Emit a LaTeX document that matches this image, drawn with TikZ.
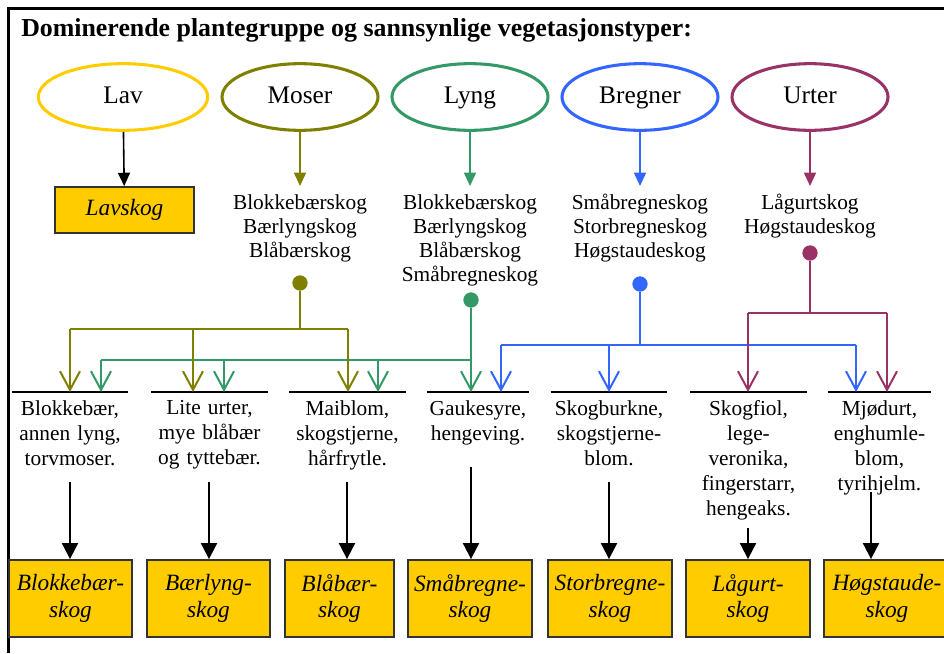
\documentclass[tikz,border=0pt]{standalone}
\usepackage{fontspec}
\setmainfont{Liberation Serif}
\usetikzlibrary{arrows.meta,shapes.geometric}

\definecolor{lavc}{RGB}{255,204,0}
\definecolor{moserc}{RGB}{128,128,0}
\definecolor{lyngc}{RGB}{51,153,102}
\definecolor{bregnerc}{RGB}{51,102,255}
\definecolor{urterc}{RGB}{153,51,102}
\definecolor{boxfill}{RGB}{255,204,0}

\tikzset{
  heading/.style={anchor=west, inner sep=0pt, font=\fontsize{19.4}{22}\selectfont\bfseries},
  group/.style={ellipse, draw, line width=2.3pt, minimum width=117pt, minimum height=50pt, text height=13pt, text depth=4pt, font=\fontsize{19}{22}\selectfont},
  typelist/.style={anchor=north, align=center, inner sep=6pt, font=\fontsize{16}{18}\selectfont},
  dot/.style={circle, fill, inner sep=0pt, minimum size=11.5pt},
  desc/.style={anchor=north, align=center, inner xsep=0pt, inner ysep=6pt, font=\fontsize{16}{18.75}\selectfont},
  vegbox/.style={draw=black!80, fill=boxfill, line width=1.4pt, minimum height=57.75pt, align=center, inner sep=0pt, font=\fontsize{17.5}{20}\selectfont\itshape},
  rail/.style={line width=1.5pt},
  bar/.style={line width=1.5pt},
  branch/.style={line width=1.5pt, -{Straight Barb[length=14pt, width=15pt]}},
  down/.style={line width=1.2pt, -{Triangle[length=10pt, width=9pt]}},
  final/.style={line width=1.5pt, -{Triangle[length=12pt, width=12pt]}}
}

\begin{document}
\begin{tikzpicture}[x=0.75pt, y=-0.75pt]
  \useasboundingbox (0,0) rectangle (944,653);
  \draw[line width=2.25pt] (8.5,653) -- (8.5,8.5) -- (944,8.5);

  \node[heading] (title) at (21,30) {Dominerende plantegruppe og sannsynlige vegetasjonstyper:};

  % plant groups
  \node[group, draw=lavc, minimum width=127pt] (lav) at (123,97) {Lav};
  \node[group, draw=moserc] (moser) at (300,97) {Moser};
  \node[group, draw=lyngc] (lyng) at (470,97) {Lyng};
  \node[group, draw=bregnerc] (bregner) at (640,97) {Bregner};
  \node[group, draw=urterc] (urter) at (810,97) {Urter};

  \node[vegbox, minimum width=104pt, minimum height=34.5pt] (lavskog) at (124.5,210) {Lavskog};
  \node[typelist] (mlist) at (300,186) {Blokkebærskog\\Bærlyngskog\\Blåbærskog};
  \node[typelist] (llist) at (470,186) {Blokkebærskog\\Bærlyngskog\\Blåbærskog\\Småbregneskog};
  \node[typelist] (blist) at (640,186) {Småbregneskog\\Storbregneskog\\Høgstaudeskog};
  \node[typelist] (ulist) at (810,186) {Lågurtskog\\Høgstaudeskog};

  \draw[down] (lav) -- (lavskog);
  \draw[down, moserc] (moser) -- (mlist);
  \draw[down, lyngc] (lyng) -- (llist);
  \draw[down, bregnerc] (bregner) -- (blist);
  \draw[down, urterc] (urter) -- (ulist);

  \node[dot, moserc] (mdot) at (300,283) {};
  \node[dot, lyngc] (ldot) at (471,300) {};
  \node[dot, bregnerc] (bdot) at (640,284) {};
  \node[dot, urterc] (udot) at (810,253) {};

  % likely vegetation, with short notes
  \node[desc, text width=87pt] (d1) at (70,392) {Blokkebær,\\annen lyng,\\torvmoser.};
  \node[desc, text width=87pt] (d2) at (209.5,392) {Lite urter,\\mye blåbær\\og tyttebær.};
  \node[desc, text width=87pt] (d3) at (347.5,392) {Maiblom,\\skogstjerne,\\hårfrytle.};
  \node[desc, text width=76.5pt] (d4) at (478,392) {Gaukesyre,\\hengeving.};
  \node[desc, text width=87pt] (d5) at (609,392) {Skogburkne,\\skogstjerne-\\blom.};
  \node[desc, text width=87pt] (d6) at (748.5,392) {Skogfiol,\\lege-\\veronika,\\fingerstarr,\\hengeaks.};
  \node[desc, text width=77pt] (d7) at (879.5,392) {Mjødurt,\\enghumle-\\blom,\\tyrihjelm.};
  \foreach \i in {1,...,7}
    \draw[bar] (d\i.north west) -- (d\i.north east);

  % branch points
  \coordinate (mA) at (70,329); \coordinate (mB) at (193,329); \coordinate (mC) at (348,329);
  \coordinate (gA) at (101,360); \coordinate (gB) at (224,360); \coordinate (gC) at (378,360);
  \coordinate (bA) at (501,345); \coordinate (bB) at (609,345); \coordinate (bC) at (856,345);
  \coordinate (uA) at (748,313); \coordinate (uB) at (887,313);

  \draw[rail, lyngc] (gA) -- (gA -| ldot);
  \draw[branch, lyngc] (ldot) -- (ldot |- d4.north);
  \foreach \c/\d in {gA/d1, gB/d2, gC/d3}
    \draw[branch, lyngc] (\c) -- (\c |- \d.north);

  \draw[rail, moserc] (mdot) -- (mdot |- mA);
  \draw[rail, moserc] (mA) -- (mC);
  \foreach \c/\d in {mA/d1, mB/d2, mC/d3}
    \draw[branch, moserc] (\c) -- (\c |- \d.north);

  \draw[rail, bregnerc] (bdot) -- (bdot |- bA);
  \draw[rail, bregnerc] (bA) -- (bC);
  \foreach \c/\d in {bA/d4, bB/d5, bC/d7}
    \draw[branch, bregnerc] (\c) -- (\c |- \d.north);

  \draw[rail, urterc] (udot) -- (udot |- uA);
  \draw[rail, urterc] (uA) -- (uB);
  \foreach \c/\d in {uA/d6, uB/d7}
    \draw[branch, urterc] (\c) -- (\c |- \d.north);

  % vegetation types
  \node[vegbox, minimum width=92.25pt] (b1) at (70.5,598.5) {Blokkebær-\\skog};
  \node[vegbox, minimum width=92.25pt] (b2) at (208.5,598.5) {Bærlyng-\\skog};
  \node[vegbox, minimum width=81.75pt] (b3) at (339.5,598.5) {Blåbær-\\skog};
  \node[vegbox, minimum width=93pt] (b4) at (470,598.5) {Småbregne-\\skog};
  \node[vegbox, minimum width=93pt] (b5) at (610,598.5) {Storbregne-\\skog};
  \node[vegbox, minimum width=93pt] (b6) at (748,598.5) {Lågurt-\\skog};
  \node[vegbox, minimum width=94.5pt] (b7) at (887,598.5) {Høgstaude-\\skog};

  \coordinate (s1) at (70,482); \coordinate (s2) at (209,482); \coordinate (s3) at (347,482);
  \coordinate (s4) at (471,467); \coordinate (s5) at (609,482); \coordinate (s6) at (748,528);
  \coordinate (s7) at (871,492);
  \foreach \i in {1,...,7}
    \draw[final] (s\i) -- (s\i |- b\i.north);
\end{tikzpicture}
\end{document}
